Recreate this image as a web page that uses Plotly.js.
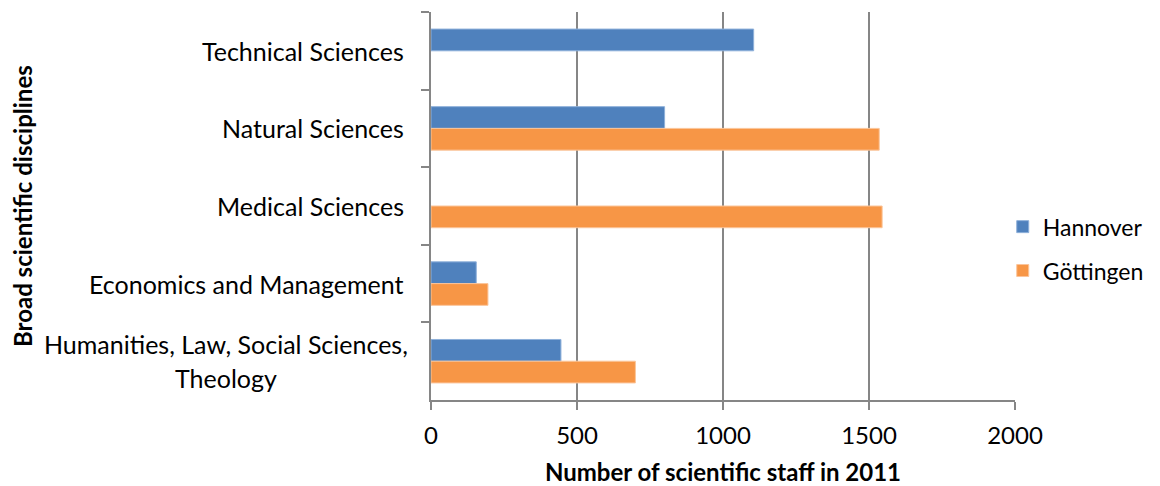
<!DOCTYPE html>
<html>
<head>
<meta charset="utf-8">
<script src="https://cdn.plot.ly/plotly-3.0.1.min.js"></script>
<style>
  html, body { margin: 0; padding: 0; background: #fff; }
  #chart { width: 1160px; height: 486px; }
</style>
</head>
<body>
<div id="chart"></div>
<script>
// Broad scientific disciplines, top to bottom
const disciplines = [
  'Technical Sciences',
  'Natural Sciences',
  'Medical Sciences',
  'Economics and Management',
  'Humanities, Law, Social Sciences,<br>Theology'
];

// Scientific staff in 2011 (null = no staff in that discipline)
const hannover  = [1105, 800, null, 155, 445];
const goettingen = [null, 1535, 1545, 195, 700];

const xTickValues = [0, 500, 1000, 1500, 2000];

const FONT = 'Lato, "Open Sans", sans-serif';
const GRID = '#868686';

const traces = [
  {
    type: 'bar', orientation: 'h', name: 'Hannover',
    y: disciplines, x: hannover, legendgroup: 'h',
    marker: { color: '#4F81BD', line: { color: '#8EB0DA', width: 1 } },
    hoverinfo: 'x+name'
  },
  {
    type: 'bar', orientation: 'h', name: 'Göttingen',
    y: disciplines, x: goettingen, legendgroup: 'g',
    marker: { color: '#F79646', line: { color: '#FBC59A', width: 1 } },
    hoverinfo: 'x+name'
  }
];

// Category labels drawn as centred text blocks, one line per annotation
const labelFont = { family: FONT, size: 25, color: '#000' };
const lineStep = 34;
const annotations = [];
disciplines.forEach(function (cat) {
  const lines = cat.split('<br>');
  lines.forEach(function (line, i) {
    annotations.push({
      xref: 'paper', yref: 'y', x: 0, y: cat,
      text: lines.length > 1 ? line : cat,
      showarrow: false, xanchor: lines.length > 1 ? 'center' : 'right',
      xshift: lines.length > 1 ? -205 : -25,
      yshift: (((lines.length - 1) / 2) - i) * lineStep,
      font: labelFont
    });
  });
});

// Vertical axis title, placed at the far left of the figure
annotations.push({
  xref: 'paper', yref: 'paper', x: 0, y: 0.5,
  xanchor: 'center', yanchor: 'middle', xshift: -409,
  text: 'Broad scientific disciplines', textangle: -90, showarrow: false,
  font: { family: FONT, size: 24, color: '#000', weight: 'bold' }
});

const layout = {
  width: 1160, height: 486,
  margin: { l: 431, r: 145, t: 12, b: 86, autoexpand: false },
  paper_bgcolor: '#fff', plot_bgcolor: '#fff',
  barmode: 'group', bargap: 0.44, bargroupgap: 0,
  font: { family: FONT, color: '#000' },
  showlegend: true,
  legend: {
    x: 0.979, xanchor: 'left', xref: 'paper',
    y: 0.39, yanchor: 'middle',
    traceorder: 'grouped', tracegroupgap: 11,
    font: { family: FONT, size: 23, color: '#000' },
    bgcolor: 'rgba(0,0,0,0)', itemclick: false
  },
  xaxis: {
    range: [0, 2000], tickvals: xTickValues, ticktext: xTickValues.map(String),
    showgrid: true, gridcolor: GRID, gridwidth: 2,
    zeroline: false, showline: true, linecolor: GRID, linewidth: 2,
    ticks: 'outside', ticklen: 8, tickcolor: GRID, tickwidth: 2,
    ticklabelstandoff: 5,
    tickfont: { family: FONT, size: 24, color: '#000' },
    title: { text: 'Number of scientific staff in 2011', standoff: 18,
             font: { family: FONT, size: 24, color: '#000', weight: 'bold' } },
    fixedrange: true
  },
  yaxis: {
    type: 'category', range: [4.5, -0.5],
    showticklabels: false,
    showgrid: false, zeroline: false,
    showline: true, linecolor: GRID, linewidth: 2,
    ticks: 'outside', tickson: 'boundaries', ticklen: 8, tickcolor: GRID, tickwidth: 2,
    fixedrange: true
  },
  annotations: annotations
};

Plotly.newPlot('chart', traces, layout, { displayModeBar: false, staticPlot: true });
</script>
</body>
</html>
